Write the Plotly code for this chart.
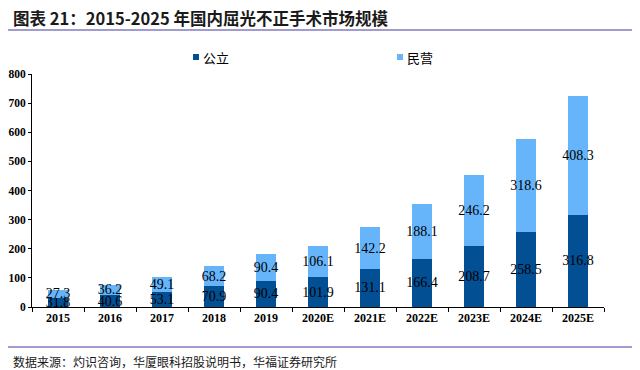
import plotly.graph_objects as go

years = ["2015", "2016", "2017", "2018", "2019", "2020E", "2021E", "2022E", "2023E", "2024E", "2025E"]
public = [31.8, 40.6, 53.1, 70.9, 90.4, 101.9, 131.1, 166.4, 208.7, 258.5, 316.8]
private = [27.3, 36.2, 49.1, 68.2, 90.4, 106.1, 142.2, 188.1, 246.2, 318.6, 408.3]
series_names = ["公立", "民营"]
yticks = [0, 100, 200, 300, 400, 500, 600, 700, 800]
title_text = "图表 21：2015-2025 年国内屈光不正手术市场规模"
source_text = "数据来源：灼识咨询，华厦眼科招股说明书，华福证券研究所"

OFF = 8  # browser default body margin
W, H = 640 - OFF, 370 - OFF
L, R, T, B = 32 - OFF, 36, 74 - OFF, 63
pw = W - L - R
ph = H - T - B

dark = "#034f94"
light = "#66b4fa"
serif = "Liberation Serif, Times New Roman, serif"
cjk = "Noto Sans CJK SC, sans-serif"
colors = [dark, light]

def px_x(p):
    return (p - OFF - L) / pw

def px_y(p):
    return (H - B - (p - OFF)) / ph

fig = go.Figure()
for vals, nm, col in zip((public, private), series_names, colors):
    fig.add_trace(go.Bar(x=years, y=vals, name=nm, marker=dict(color=col, line=dict(width=0)),
                         texttemplate="%{y:.1f}", textposition="inside", insidetextanchor="middle",
                         textangle=0,
                         textfont=dict(family=serif, size=14, color="black"), hoverinfo="skip"))

fig.update_layout(
    width=W, height=H,
    margin=dict(l=L, r=R, t=T, b=B, autoexpand=False),
    barmode="stack", bargap=0.62,
    plot_bgcolor="white", paper_bgcolor="white",
    uniformtext=dict(minsize=14, mode="show"),
    showlegend=False,
    xaxis=dict(showline=True, linecolor="black", linewidth=1, ticks="outside", tickson="boundaries",
               ticklen=4, tickcolor="black", showgrid=False, automargin=False,
               tickfont=dict(family=serif, size=12, color="black", weight="bold")),
    yaxis=dict(range=[0, 800], tickvals=yticks, showline=True, linecolor="black", linewidth=1,
               ticks="outside", ticklen=3, tickcolor="black", showgrid=False, zeroline=False,
               automargin=False,
               tickfont=dict(family=serif, size=11.5, color="black", weight="bold")),
)

# legend (custom placement)
for i, (nm, col) in enumerate(zip(series_names, colors)):
    x0 = 193 + i * 204
    fig.add_shape(type="rect", xref="paper", yref="paper", x0=px_x(x0), x1=px_x(x0 + 6),
                  y0=px_y(60), y1=px_y(54), fillcolor=col, line=dict(width=0))
    fig.add_annotation(text=nm, xref="paper", yref="paper", x=px_x(x0 + 9), y=px_y(57),
                       xanchor="left", yanchor="middle", showarrow=False, borderpad=0,
                       font=dict(family=cjk, size=13, color="black"))

fig.add_annotation(text=title_text, xref="paper", yref="paper",
                   x=px_x(13), y=px_y(18), xanchor="left", yanchor="middle", showarrow=False,
                   borderpad=0, borderwidth=0,
                   font=dict(family=cjk, size=16.5, color="#1a1a1a", weight="bold"))
fig.add_annotation(text=source_text, xref="paper", yref="paper",
                   x=px_x(12), y=px_y(361), xanchor="left", yanchor="middle", showarrow=False,
                   borderpad=0,
                   font=dict(family=cjk, size=12, color="#1a1a1a"))
for yy in (30, 347):
    fig.add_shape(type="line", xref="paper", yref="paper", x0=px_x(OFF), x1=px_x(640),
                  y0=px_y(yy), y1=px_y(yy), line=dict(color="#a09ccf", width=2))
fig.add_shape(type="rect", xref="paper", yref="paper", x0=px_x(636.5), x1=px_x(640),
              y0=px_y(47), y1=px_y(OFF), fillcolor="#e0f5b4", line=dict(width=0))

fig.write_html("out.html")
